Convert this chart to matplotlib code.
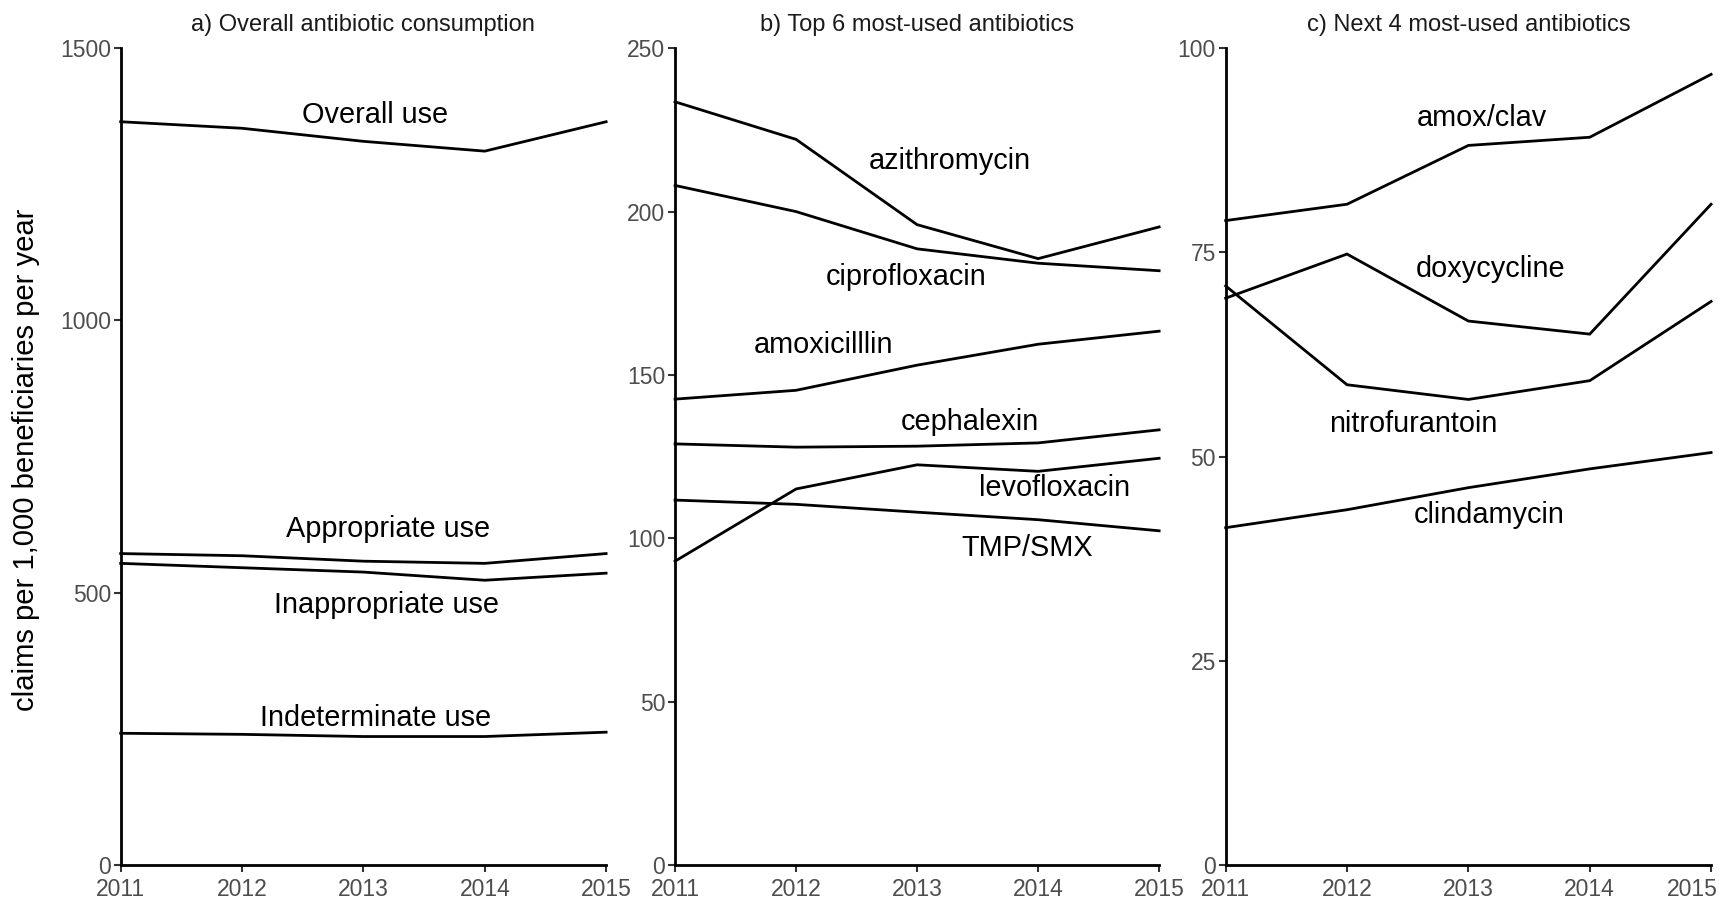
import matplotlib
matplotlib.use("Agg")
import matplotlib.pyplot as plt
from matplotlib.transforms import ScaledTranslation

plt.rcParams['font.family'] = ['Liberation Sans', 'DejaVu Sans']

years = [2011, 2012, 2013, 2014, 2015]

# Panel a
overall = [1365, 1353, 1329, 1311, 1365]
appropriate = [572, 568, 558, 554, 572]
inappropriate = [554, 546, 538, 523, 536]
indeterminate = [242, 240, 236, 236, 244]

# Panel b
azithromycin = [233.6, 222.1, 196.0, 185.6, 195.3]
ciprofloxacin = [208.0, 200.0, 188.6, 184.2, 181.9]
amoxicillin = [142.6, 145.3, 153.0, 159.4, 163.4]
cephalexin = [128.9, 127.9, 128.2, 129.2, 133.2]
levofloxacin = [93.0, 115.1, 122.5, 120.5, 124.5]
tmp_smx = [111.7, 110.4, 108.0, 105.7, 102.3]

# Panel c
amox_clav = [78.9, 80.9, 88.1, 89.1, 96.8]
doxycycline = [69.4, 74.8, 66.6, 65.0, 80.9]
nitrofurantoin = [70.9, 58.8, 57.0, 59.3, 69.0]
clindamycin = [41.3, 43.5, 46.2, 48.5, 50.5]

titles = ["a) Overall antibiotic consumption",
          "b) Top 6 most-used antibiotics",
          "c) Next 4 most-used antibiotics"]
ylims = [1500, 250, 100]
yticks = [[0, 500, 1000, 1500], [0, 50, 100, 150, 200, 250], [0, 25, 50, 75, 100]]

panels = [
    [(overall, "Overall use", 2013.1, 1377),
     (appropriate, "Appropriate use", 2013.2, 618),
     (inappropriate, "Inappropriate use", 2013.19, 477),
     (indeterminate, "Indeterminate use", 2013.1, 270)],
    [(azithromycin, "azithromycin", 2013.27, 215.4),
     (ciprofloxacin, "ciprofloxacin", 2012.91, 179.9),
     (amoxicillin, "amoxicilllin", 2012.23, 159.1),
     (cephalexin, "cephalexin", 2013.44, 135.6),
     (levofloxacin, "levofloxacin", 2014.14, 115.4),
     (tmp_smx, "TMP/SMX", 2013.91, 97.0)],
    [(amox_clav, "amox/clav", 2013.11, 91.5),
     (doxycycline, "doxycycline", 2013.18, 73.0),
     (nitrofurantoin, "nitrofurantoin", 2012.55, 54.0),
     (clindamycin, "clindamycin", 2013.17, 42.8)],
]

fig = plt.figure(figsize=(17.19, 8.98), dpi=100)
lefts = [0.0702, 0.3927, 0.7130]
widths = [0.2824, 0.2816, 0.2824]
bottom, height = 0.0367, 0.9096

for i in range(3):
    ax = fig.add_axes([lefts[i], bottom, widths[i], height])
    for vals, lab, tx, ty in panels[i]:
        ax.plot(years, vals, color='black', lw=2.0, clip_on=False, solid_joinstyle='miter')
        ax.text(tx, ty, lab, ha='center', va='center', fontsize=20.8, color='black')
    ax.set_xlim(2011, 2015)
    ax.set_ylim(0, ylims[i])
    ax.set_xticks(years)
    ax.set_yticks(yticks[i])
    for s in ['top', 'right']:
        ax.spines[s].set_visible(False)
    for s in ['left', 'bottom']:
        ax.spines[s].set_linewidth(2.0)
        ax.spines[s].set_color('black')
    ax.tick_params(axis='both', length=5, width=1.5, color='#333333',
                   labelcolor='#4D4D4D', labelsize=16.5)
    ax.tick_params(axis='x', pad=4)
    ax.tick_params(axis='y', pad=2)
    cx = lefts[i] + widths[i] / 2
    fig.text(cx, 1 - 25 / 898, titles[i], ha='center', va='center',
             fontsize=17, color='#1A1A1A')
    if i == 2:
        fig.canvas.draw()
        lab = ax.get_xticklabels()[-1]
        lab.set_horizontalalignment('right')
        lab.set_transform(lab.get_transform() + ScaledTranslation(7 / 100, 0, fig.dpi_scale_trans))

fig.text(26 / 1719, 1 - 460 / 898, "claims per 1,000 beneficiaries per year",
         rotation=90, ha='center', va='center', fontsize=21.1, color='black')

fig.savefig("out.png", dpi=100)
